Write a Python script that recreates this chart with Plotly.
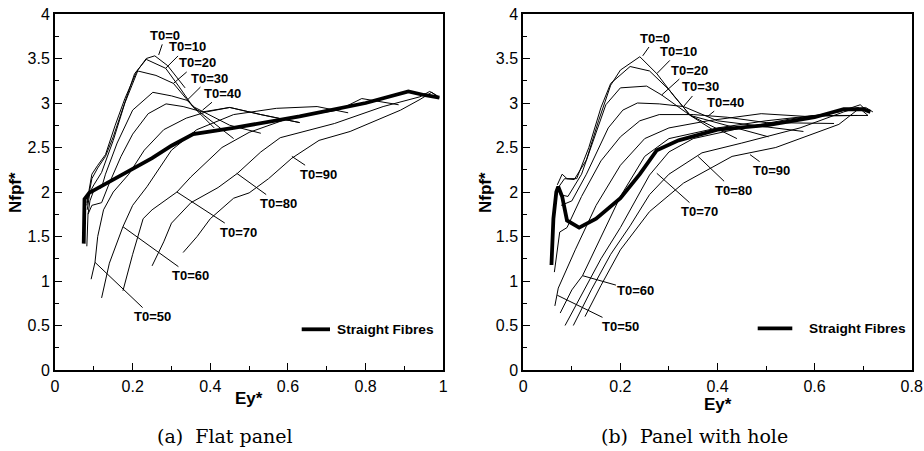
import plotly.graph_objects as go

W, H = 924, 451

# ---------------- data : (a) flat panel ----------------
T0_LABELS = ["T0=0", "T0=10", "T0=20", "T0=30", "T0=40",
             "T0=50", "T0=60", "T0=70", "T0=80", "T0=90"]

flat_sf_x = [0.074, 0.076, 0.088, 0.15, 0.25, 0.30, 0.356, 0.46, 0.63, 0.80, 0.91, 0.95, 0.99]
flat_sf_y = [1.42, 1.92, 1.99, 2.14, 2.38, 2.52, 2.65, 2.72, 2.85, 3.00, 3.13, 3.09, 3.06]

flat_x = [
    [0.082, 0.095, 0.11, 0.13, 0.155, 0.18, 0.21, 0.235, 0.257, 0.29, 0.335],
    [0.082, 0.095, 0.11, 0.13, 0.15, 0.18, 0.205, 0.235, 0.285, 0.32, 0.355, 0.41],
    [0.083, 0.09, 0.10, 0.12, 0.15, 0.18, 0.213, 0.26, 0.305, 0.355, 0.46],
    [0.085, 0.09, 0.10, 0.12, 0.13, 0.16, 0.20, 0.252, 0.30, 0.34, 0.36, 0.45, 0.53],
    [0.082, 0.085, 0.095, 0.12, 0.14, 0.17, 0.20, 0.24, 0.286, 0.33, 0.38, 0.45, 0.53, 0.63],
    [0.093, 0.103, 0.11, 0.125, 0.15, 0.19, 0.23, 0.28, 0.338, 0.39, 0.45, 0.53, 0.63],
    [0.12, 0.14, 0.175, 0.20, 0.237, 0.30, 0.365, 0.46, 0.57, 0.675, 0.755],
    [0.175, 0.20, 0.227, 0.25, 0.314, 0.35, 0.43, 0.50, 0.61, 0.73, 0.79, 0.885],
    [0.25, 0.28, 0.30, 0.35, 0.42, 0.47, 0.53, 0.58, 0.72, 0.845, 0.94, 0.965, 0.985],
    [0.33, 0.366, 0.40, 0.46, 0.50, 0.55, 0.61, 0.68, 0.76, 0.89, 0.94, 0.97, 0.99],
]
flat_y = [
    [1.88, 2.20, 2.30, 2.42, 2.75, 3.05, 3.35, 3.50, 3.53, 3.42, 3.17],
    [1.85, 2.15, 2.27, 2.40, 2.62, 3.02, 3.33, 3.49, 3.39, 3.18, 2.96, 2.72],
    [1.80, 2.00, 2.08, 2.22, 2.58, 3.00, 3.36, 3.31, 3.22, 2.96, 2.60],
    [1.75, 1.90, 2.02, 2.05, 2.20, 2.55, 2.92, 3.12, 3.08, 3.03, 2.95, 2.75, 2.66],
    [1.39, 1.75, 1.85, 1.88, 2.10, 2.40, 2.65, 2.88, 2.99, 2.96, 2.90, 2.95, 2.87, 2.78],
    [1.02, 1.21, 1.50, 1.80, 2.00, 2.20, 2.47, 2.70, 2.83, 2.90, 2.95, 2.87, 2.78],
    [0.81, 1.20, 1.61, 1.85, 2.06, 2.47, 2.70, 2.87, 2.94, 2.96, 2.89],
    [0.89, 1.30, 1.70, 1.80, 2.00, 2.17, 2.50, 2.67, 2.84, 2.92, 3.05, 2.98],
    [1.17, 1.44, 1.65, 1.88, 2.05, 2.21, 2.45, 2.61, 2.77, 2.96, 3.07, 3.13, 3.08],
    [1.32, 1.50, 1.70, 1.93, 1.99, 2.15, 2.38, 2.58, 2.68, 2.92, 3.04, 3.12, 3.06],
]
# label centre (x, y) and leader tip (x, y)
flat_lab_x = [0.284, 0.340, 0.366, 0.398, 0.432, 0.250, 0.350, 0.473, 0.576, 0.679]
flat_lab_y = [3.76, 3.63, 3.45, 3.28, 3.11, 0.60, 1.06, 1.55, 1.87, 2.20]
flat_tip_x = [0.267, 0.285, 0.305, 0.340, 0.380, 0.103, 0.175, 0.314, 0.468, 0.610]
flat_tip_y = [3.54, 3.39, 3.22, 3.03, 2.92, 1.21, 1.61, 2.00, 2.21, 2.40]

# ---------------- data : (b) panel with hole ----------------
hole_sf_x = [0.058, 0.062, 0.068, 0.072, 0.08, 0.09, 0.115, 0.15, 0.20, 0.24, 0.275, 0.32, 0.40, 0.50, 0.60, 0.66, 0.70, 0.715]
hole_sf_y = [1.18, 1.70, 2.00, 2.06, 1.95, 1.68, 1.60, 1.70, 1.93, 2.20, 2.47, 2.58, 2.70, 2.75, 2.84, 2.93, 2.93, 2.90]

hole_x = [
    [0.072, 0.085, 0.105, 0.13, 0.155, 0.18, 0.20, 0.24, 0.275, 0.31, 0.344, 0.39],
    [0.07, 0.08, 0.09, 0.11, 0.135, 0.16, 0.18, 0.22, 0.26, 0.30, 0.344, 0.44],
    [0.075, 0.092, 0.12, 0.145, 0.17, 0.20, 0.254, 0.285, 0.344, 0.505],
    [0.078, 0.10, 0.13, 0.175, 0.205, 0.235, 0.28, 0.33, 0.40, 0.577],
    [0.064, 0.075, 0.09, 0.12, 0.16, 0.20, 0.24, 0.28, 0.35, 0.42, 0.50, 0.64],
    [0.065, 0.072, 0.107, 0.15, 0.20, 0.25, 0.30, 0.38, 0.49, 0.58, 0.688],
    [0.076, 0.10, 0.122, 0.16, 0.20, 0.25, 0.30, 0.40, 0.50, 0.60, 0.71],
    [0.086, 0.12, 0.16, 0.20, 0.26, 0.30, 0.35, 0.45, 0.55, 0.65, 0.694, 0.71],
    [0.103, 0.14, 0.18, 0.22, 0.26, 0.30, 0.368, 0.45, 0.57, 0.66, 0.69, 0.71],
    [0.127, 0.16, 0.20, 0.26, 0.33, 0.43, 0.52, 0.60, 0.65, 0.69, 0.705, 0.72],
]
hole_y = [
    [2.05, 2.15, 2.14, 2.36, 2.80, 3.20, 3.37, 3.52, 3.33, 3.08, 2.86, 2.70],
    [2.08, 2.20, 2.15, 2.15, 2.50, 2.95, 3.22, 3.41, 3.36, 3.15, 2.86, 2.60],
    [1.97, 1.95, 2.20, 2.60, 2.98, 3.17, 3.19, 3.09, 2.86, 2.62],
    [1.85, 1.90, 2.20, 2.72, 2.92, 3.00, 2.99, 2.96, 2.80, 2.68],
    [1.10, 1.55, 1.60, 1.95, 2.35, 2.62, 2.80, 2.87, 2.87, 2.84, 2.78, 2.77],
    [0.72, 0.92, 1.35, 1.85, 2.30, 2.60, 2.72, 2.80, 2.88, 2.85, 2.86],
    [0.64, 0.90, 1.06, 1.50, 1.95, 2.40, 2.60, 2.72, 2.80, 2.86, 2.86],
    [0.50, 0.85, 1.25, 1.60, 2.19, 2.45, 2.60, 2.72, 2.82, 2.90, 2.98, 2.90],
    [0.50, 0.90, 1.30, 1.62, 1.97, 2.20, 2.44, 2.55, 2.72, 2.90, 2.95, 2.86],
    [0.60, 0.95, 1.35, 1.78, 2.10, 2.40, 2.50, 2.66, 2.76, 2.93, 2.95, 2.90],
]
hole_lab_x = [0.272, 0.320, 0.342, 0.364, 0.416, 0.201, 0.232, 0.363, 0.433, 0.512]
hole_lab_y = [3.73, 3.58, 3.37, 3.18, 3.01, 0.49, 0.89, 1.78, 2.02, 2.24]
hole_tip_x = [0.246, 0.275, 0.285, 0.330, 0.380, 0.070, 0.122, 0.275, 0.360, 0.467]
hole_tip_y = [3.53, 3.33, 3.09, 2.96, 2.85, 0.84, 1.06, 2.21, 2.40, 2.42]

LEGEND_TEXT = "Straight Fibres"
CAPTIONS = ["(a)  Flat panel", "(b)  Panel with hole"]
X_TITLE = "Ey*"
Y_TITLE = "Nfpf*"

# ---------------- layout helpers (pixel geometry) ----------------
def px(xp):
    return xp / W

def py(yp):
    return 1 - yp / H

AX_TOP, AX_BOT = 14, 370
PANELS = [
    dict(x0=55, x1=443.3, xmax=1.0, xa="x", ya="y"),
    dict(x0=523.3, x1=911.7, xmax=0.8, xa="x2", ya="y2"),
]

fig = go.Figure()
SANS = "Liberation Sans"

datasets = [
    (flat_x, flat_y, flat_sf_x, flat_sf_y, flat_lab_x, flat_lab_y, flat_tip_x, flat_tip_y),
    (hole_x, hole_y, hole_sf_x, hole_sf_y, hole_lab_x, hole_lab_y, hole_tip_x, hole_tip_y),
]

annotations = []
shapes = []
for p, (cx, cy, sfx, sfy, lx, ly, tx, ty) in zip(PANELS, datasets):
    for i, name in enumerate(T0_LABELS):
        fig.add_trace(go.Scatter(x=cx[i], y=cy[i], mode="lines", name=name,
                                 line=dict(color="black", width=1),
                                 xaxis=p["xa"], yaxis=p["ya"], showlegend=False,
                                 hoverinfo="skip"))
        annotations.append(dict(x=tx[i], y=ty[i], ax=lx[i], ay=ly[i],
                                xref=p["xa"], yref=p["ya"], axref=p["xa"], ayref=p["ya"],
                                text="<b>%s</b>" % name, showarrow=True, arrowhead=0,
                                arrowwidth=1, arrowcolor="black", standoff=0,
                                xanchor="center", yanchor="middle",
                                font=dict(family=SANS, size=13, color="black")))
    fig.add_trace(go.Scatter(x=sfx, y=sfy, mode="lines", name=LEGEND_TEXT,
                             line=dict(color="black", width=3.8),
                             xaxis=p["xa"], yaxis=p["ya"], showlegend=False,
                             hoverinfo="skip"))

# legends (drawn as a sample line + text, pixel geometry)
LEG = [dict(l0=301.7, l1=330, ly=329.3, tx=335), dict(l0=757.7, l1=792.3, ly=328.3, tx=806.7)]
for g in LEG:
    shapes.append(dict(type="line", xref="paper", yref="paper",
                       x0=px(g["l0"]), x1=px(g["l1"]), y0=py(g["ly"]), y1=py(g["ly"]),
                       line=dict(color="black", width=3.8)))
    annotations.append(dict(x=px(g["tx"]), y=py(g["ly"]), xref="paper", yref="paper",
                            xanchor="left", yanchor="middle", showarrow=False,
                            text="<b>%s</b>" % LEGEND_TEXT,
                            font=dict(family=SANS, size=13.7, color="black")))

# axis titles & captions
XT = [dict(x=249, y=398), dict(x=717.5, y=404)]
YT = [dict(x=15, y=192), dict(x=485, y=192)]
CAP = [dict(x=225, y=436), dict(x=694, y=436)]
for i in range(2):
    annotations.append(dict(x=px(XT[i]["x"]), y=py(XT[i]["y"]), xref="paper", yref="paper",
                            xanchor="center", yanchor="middle",
                            showarrow=False, text="<b>%s</b>" % X_TITLE,
                            font=dict(family=SANS, size=17, color="black")))
    annotations.append(dict(x=px(YT[i]["x"]), y=py(YT[i]["y"]), xref="paper", yref="paper",
                            xanchor="center", yanchor="middle",
                            showarrow=False, text="<b>%s</b>" % Y_TITLE, textangle=-90,
                            font=dict(family=SANS, size=17, color="black")))
    annotations.append(dict(x=px(CAP[i]["x"]), y=py(CAP[i]["y"]), xref="paper", yref="paper",
                            xanchor="center", yanchor="middle",
                            showarrow=False, text=CAPTIONS[i],
                            font=dict(family="DejaVu Serif", size=19, color="black")))

def xaxis_cfg(p):
    return dict(domain=[px(p["x0"]), px(p["x1"])], range=[0, p["xmax"]],
                dtick=0.2, tick0=0, ticks="inside", ticklen=7, tickwidth=1.2,
                tickcolor="black", showline=True, linewidth=2, linecolor="black",
                mirror=True, showgrid=False, zeroline=False, automargin=False,
                ticklabelstandoff=1,
                tickfont=dict(family=SANS, size=16, color="black"),
                minor=dict(dtick=0.1, ticks="inside", ticklen=4, tickwidth=1, tickcolor="black",
                           showgrid=False),
                anchor=p["ya"], fixedrange=True)

def yaxis_cfg(p):
    return dict(domain=[py(AX_BOT), py(AX_TOP)], range=[0, 4],
                dtick=0.5, tick0=0, ticks="inside", ticklen=7, tickwidth=1.2,
                tickcolor="black", showline=True, linewidth=2, linecolor="black",
                mirror=True, showgrid=False, zeroline=False, automargin=False,
                tickfont=dict(family=SANS, size=16, color="black"),
                minor=dict(dtick=0.25, ticks="inside", ticklen=4, tickwidth=1, tickcolor="black",
                           showgrid=False),
                anchor=p["xa"], fixedrange=True)

fig.update_layout(
    width=W, height=H, margin=dict(l=0, r=0, t=0, b=0, autoexpand=False),
    paper_bgcolor="white", plot_bgcolor="white",
    xaxis=xaxis_cfg(PANELS[0]), yaxis=yaxis_cfg(PANELS[0]),
    xaxis2=xaxis_cfg(PANELS[1]), yaxis2=yaxis_cfg(PANELS[1]),
    annotations=annotations, shapes=shapes, showlegend=False,
)

fig.write_html("out.html")
